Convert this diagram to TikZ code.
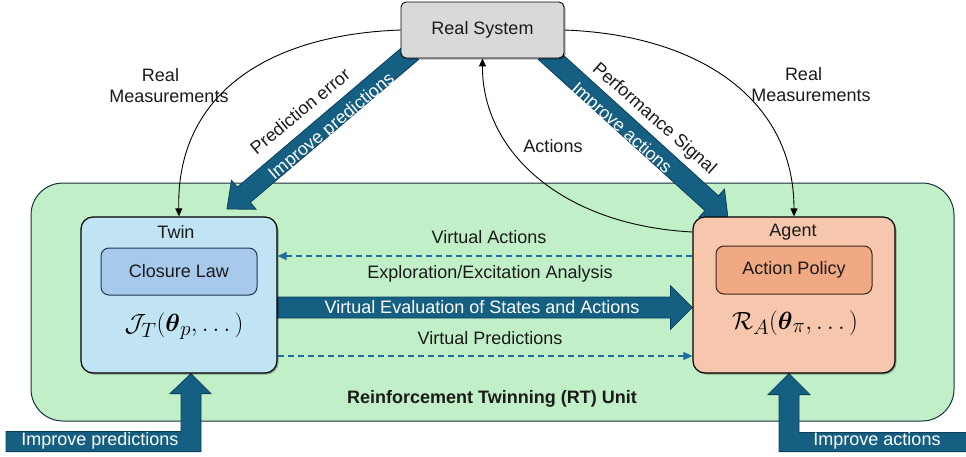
\documentclass[tikz,border=0pt]{standalone}
\usepackage{fontspec}
\setmainfont{Liberation Sans}
\usepackage{amsmath}
\usetikzlibrary{calc,arrows.meta,shadows}

\definecolor{arrowblue}{HTML}{156082}
\definecolor{arrowedge}{HTML}{0C3F5A}
\definecolor{dashblue}{HTML}{1F6E9C}
\definecolor{unitfill}{HTML}{C1F0C8}
\definecolor{unitedge}{HTML}{13303F}
\definecolor{twinfill}{HTML}{C1E4F5}
\definecolor{lawfill}{HTML}{A6C9EC}
\definecolor{lawedge}{HTML}{1F3550}
\definecolor{agentfill}{HTML}{F6C6AD}
\definecolor{policyfill}{HTML}{F1A983}
\definecolor{policyedge}{HTML}{3A2418}
\definecolor{sysfill}{HTML}{D9D9D9}
\definecolor{inktext}{HTML}{1A1A1A}

\pgfdeclarelayer{back}
\pgfsetlayers{back,main}

% straight block arrow: start, tip, shaft half width, head half width, head length
\newcommand\blockarr[5]{%
  \coordinate (ba-h) at ($(#2)!#5!(#1)$);
  \filldraw[blockarrow]
    ($(#1)!#3!90:(#2)$) -- ($(ba-h)!#3!90:(#2)$) -- ($(ba-h)!#4!90:(#2)$) -- (#2)
    -- ($(ba-h)!#4!-90:(#2)$) -- ($(ba-h)!#3!-90:(#2)$) -- ($(#1)!#3!-90:(#2)$) -- cycle;
}

\tikzset{
  boxshadow/.style={drop shadow={shadow xshift=1.5pt,shadow yshift=-1.5pt,opacity=0.3,fill=black}},
  sysbox/.style={draw=black,line width=0.9pt,fill=sysfill,rounded corners=5pt,boxshadow,text=inktext},
  twinbox/.style={draw=black,line width=1.2pt,fill=twinfill,rounded corners=12pt,boxshadow},
  agentbox/.style={draw=black,line width=1.2pt,fill=agentfill,rounded corners=12pt,boxshadow},
  lawbox/.style={draw=lawedge,line width=1pt,fill=lawfill,rounded corners=8pt,text=inktext},
  policybox/.style={draw=policyedge,line width=1pt,fill=policyfill,rounded corners=8pt,text=inktext},
  unitbox/.style={draw=unitedge,line width=1pt,fill=unitfill,rounded corners=32pt},
  blockarrow/.style={fill=arrowblue,draw=arrowedge,line width=0.8pt},
  label/.style={text=inktext,inner sep=0pt},
  whitelabel/.style={text=white,inner sep=0pt},
  mathlabel/.style={font=\fontsize{30}{34}\selectfont,inner sep=0pt},
  thinarrow/.style={draw=black,line width=0.9pt,-{Triangle[length=8pt,width=7pt]}},
  dasharrow/.style={draw=dashblue,line width=1.4pt,dash pattern=on 6pt off 4pt,-{Triangle[length=9pt,width=8pt]}},
}

\begin{document}
\begin{tikzpicture}[x=1pt,y=-1pt,font=\fontsize{18}{21}\selectfont]
\useasboundingbox (0,0) rectangle (966,456);

% main boxes
\node[sysbox,minimum width=163,minimum height=56] (rs) at (482.5,30) {Real System};
\node[twinbox,minimum width=196,minimum height=156] (twin) at (179,295) {};
\node[agentbox,minimum width=202,minimum height=156] (agent) at (794,295) {};

\node[label] (twintitle) at (176,232) {Twin};
\node[lawbox,minimum width=156,minimum height=47] (law) at (179,271.5) {Closure Law};
\node[mathlabel] (jt) at (184,326) {$\mathcal{J}_T(\boldsymbol{\theta}_p,\dots)$};

\node[label] (agenttitle) at (793,232) {Agent};
\node[policybox,minimum width=156,minimum height=48] (pol) at (794,270) {Action Policy};
\node[mathlabel] (ra) at (795,323) {$\mathcal{R}_A(\boldsymbol{\theta}_\pi,\dots)$};

\node[label,font=\bfseries\fontsize{18}{21}\selectfont] (unittitle) at (492,399) {Reinforcement Twinning (RT) Unit};

% block arrows and unit frame, behind the boxes
\begin{pgfonlayer}{back}
  \node[unitbox,minimum width=923,minimum height=238] (unit) at (492.5,302) {};

  % Real System -> Twin
  \coordinate (pa) at (412,52);
  \coordinate (pb) at (227,209);
  \blockarr{pa}{pb}{10pt}{19pt}{22pt}
  % Real System -> Agent
  \coordinate (aa) at (545,52);
  \coordinate (ab) at (728,218);
  \blockarr{aa}{ab}{10pt}{19pt}{22pt}
  % Twin -> Agent
  \coordinate (ma) at ($(twin.east)+(0,12.5)$);
  \coordinate (mb) at ($(agent.west)+(0,12.5)$);
  \blockarr{ma}{mb}{10.5pt}{22pt}{22pt}

  % bottom feeds
  \coordinate (tp) at ($(twin.south)+(12,0)$);
  \filldraw[blockarrow] (tp) -- ++(20,20) -- ++(-10,0) -- ++(0,58) -- ++(-195,0)
    -- ++(0,-20) -- ++(175,0) -- ++(0,-38) -- ++(-11,0) -- cycle;
  \coordinate (ap) at ($(agent.south)+(-5,0)$);
  \filldraw[blockarrow] (ap) -- ++(21,21) -- ++(-11,0) -- ++(0,38) -- ++(175,0)
    -- ++(0,19) -- ++(-195,0) -- ++(0,-57) -- ++(-11,0) -- cycle;
\end{pgfonlayer}

% labels on the block arrows
\node[whitelabel,rotate=39.5] (ipd) at (332,127) {Improve predictions};
\node[label,rotate=39.5] (perr) at (300,111) {Prediction error};
\node[whitelabel,rotate=-41.5] (iad) at (621,129) {Improve actions};
\node[label,rotate=-41.5] (psig) at (654,119) {Performance Signal};
\node[whitelabel] (vesa) at (482,307) {Virtual Evaluation of States and Actions};
\node[whitelabel] (ipb) at (100,441) {Improve predictions};
\node[whitelabel] (iab) at (877,441) {Improve actions};

% virtual exchanges
\coordinate (vaa) at ($(agent.west)+(0,-39)$);
\coordinate (vab) at ($(twin.east)+(0,-39)$);
\draw[dasharrow] (vaa) -- (vab);
\coordinate (vpa) at ($(twin.east)+(0,61)$);
\coordinate (vpb) at ($(agent.west)+(0,61)$);
\draw[dasharrow] (vpa) -- (vpb);
\node[label] (vact) at (489,237) {Virtual Actions};
\node[label] (expl) at (490,274) {Exploration/Excitation Analysis};
\node[label] (vpred) at (490,338) {Virtual Predictions};

% measurement and action loops
\draw[thinarrow] (rs.west) .. controls (260,35) and (176,100) .. (twin.north);
\draw[thinarrow] (rs.east) .. controls (700,35) and (794,100) .. (agent.north);
\coordinate (actstart) at ($(agent.west)+(0,-63)$);
\draw[thinarrow] (actstart) .. controls (560,225) and (482,150) .. (rs.south);

\node[label,align=center] (rml) at (169,86) {Real\hspace*{17pt}\\Measurements};
\node[label,align=center] (rmr) at (811,85) {Real\hspace*{15pt}\\Measurements};
\node[label] (acts) at (553,146) {Actions};
\end{tikzpicture}
\end{document}
